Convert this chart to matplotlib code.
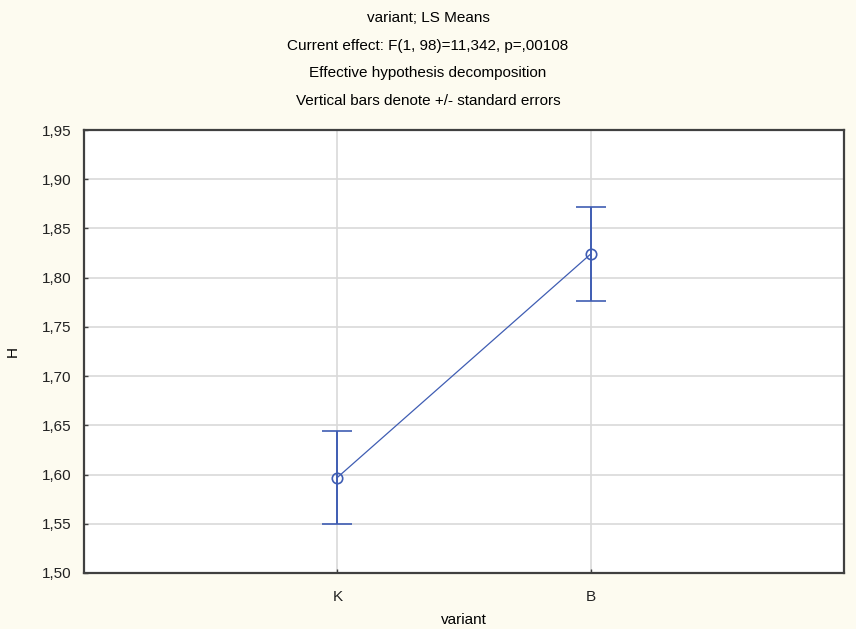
import matplotlib
matplotlib.use("Agg")
import matplotlib.pyplot as plt
import matplotlib.ticker as mticker

plt.rcParams['font.family'] = ['Liberation Sans', 'DejaVu Sans']

# LS means of H by variant, with standard errors
categories = ["K", "B"]
means = [1.597, 1.824]
std_err = [0.047, 0.048]

title_lines = [
    "variant; LS Means",
    "Current effect: F(1, 98)=11,342, p=,00108",
    "Effective hypothesis decomposition",
    "Vertical bars denote +/- standard errors",
]

BG = "#FDFBF0"
BLUE = "#3F5DB3"

fig = plt.figure(figsize=(8.56, 6.29), dpi=100, facecolor=BG)
ax = fig.add_axes([84 / 856, 1 - 573 / 629, (844 - 84) / 856, (573 - 130) / 629])
ax.set_facecolor("white")

x = list(range(len(categories)))
ax.errorbar(x, means, yerr=std_err, color=BLUE, lw=0.9, marker="o", ms=7.5,
            mfc="none", mec=BLUE, mew=1.2, capsize=11, capthick=1.4,
            elinewidth=1.4, zorder=3)

ax.set_xlim(-1, 2)
ax.set_ylim(1.50, 1.95)
ax.set_xticks(x)
ax.set_xticklabels(categories)
ax.yaxis.set_major_locator(mticker.MultipleLocator(0.05))
ax.yaxis.set_major_formatter(mticker.FuncFormatter(lambda v, p: f"{v:.2f}".replace(".", ",")))
ax.grid(True, color="#D9D9D9", lw=1.2)
ax.set_axisbelow(True)
ax.tick_params(direction="in", length=3, width=1, color="#404040",
               labelsize=11, colors="#222222")
ax.tick_params(axis="y", pad=9, labelcolor="#222222")
ax.tick_params(axis="x", pad=12, labelcolor="#222222")
for s in ax.spines.values():
    s.set_color("#404040")
    s.set_linewidth(1.6)

ax.set_xlabel("variant", fontsize=11, labelpad=7)
ax.set_ylabel("H", fontsize=11, labelpad=16)

for i, line in enumerate(title_lines):
    fig.text(0.5, 1 - (18 + 27.7 * i) / 629, line, ha="center", va="center", fontsize=11)

fig.savefig("out.png", dpi=100, facecolor=BG)
